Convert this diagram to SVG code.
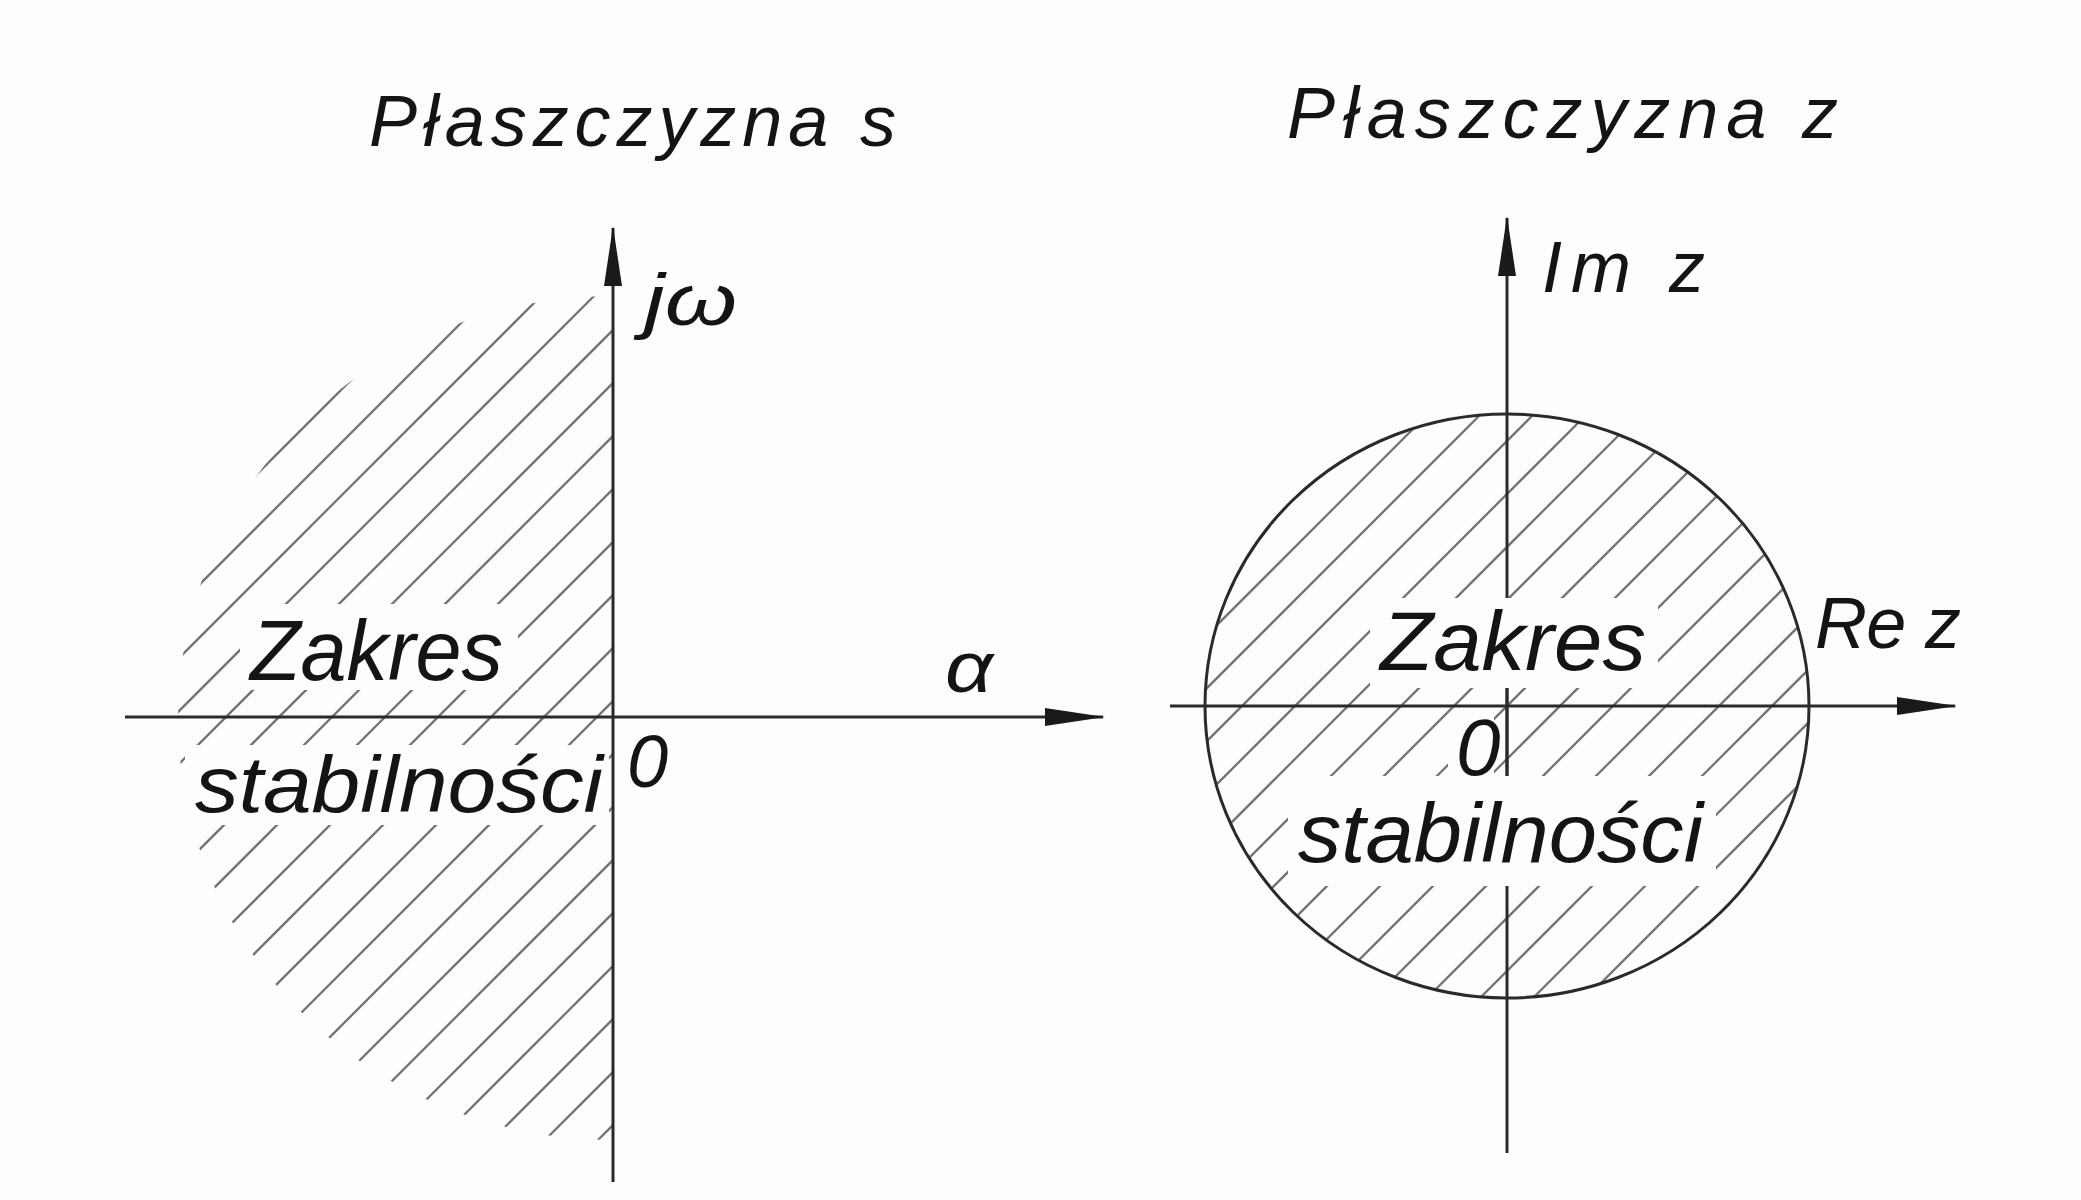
<svg xmlns="http://www.w3.org/2000/svg" width="2081" height="1200" viewBox="0 0 2081 1200">
  <style>
    .axis { stroke: #2a2a2a; stroke-width: 3; fill: none; }
    .hatch { stroke: #757575; stroke-width: 2.3; fill: none; }
    .ring { stroke: #2a2a2a; stroke-width: 3; fill: none; }
    .mask { fill: #fdfdfd; stroke: none; }
    .lbl { font-family: "Liberation Sans", Arial, sans-serif; font-style: italic; fill: #141414; }
  </style>
  <defs>
    <marker id="arrow" markerUnits="userSpaceOnUse" markerWidth="60" markerHeight="20" refX="58" refY="10" orient="auto">
      <path d="M0,1 L60,10 L0,19 Z" fill="#1a1a1a"/>
    </marker>
    <clipPath id="clipS">
      <path d="M613,296 A435,422 0 0 0 613,1140 Z"/>
    </clipPath>
    <clipPath id="clipZ">
      <ellipse cx="1507" cy="706" rx="301" ry="291"/>
    </clipPath>
  </defs>

  <rect width="2081" height="1200" fill="#fdfdfd"/>

  <!-- Plane s -->
  <g id="plane-s">
    <g id="s-hatch" class="hatch" clip-path="url(#clipS)">
      <path d="M100,631L700,31M100,684L700,84M100,737L700,137M100,790L700,190M100,843L700,243M100,896L700,296M100,949L700,349M100,1002L700,402M100,1055L700,455M100,1108L700,508M100,1161L700,561M100,1214L700,614M100,1267L700,667M100,1320L700,720M100,1373L700,773M100,1426L700,826M100,1479L700,879M100,1532L700,932M100,1585L700,985M100,1638L700,1038"/>
    </g>
    <g id="s-text-bg">
      <rect class="mask" x="240" y="604" width="278" height="86"/>
      <rect class="mask" x="185" y="745" width="424" height="80"/>
    </g>
    <g id="s-title"><text class="lbl" x="369" y="146" font-size="72" textLength="527" lengthAdjust="spacing">Płaszczyzna s</text></g>
    <g id="s-jw"><text class="lbl" x="644" y="325" font-size="72" textLength="93" lengthAdjust="spacingAndGlyphs">jω</text></g>
    <g id="s-alpha"><text class="lbl" x="945" y="692" font-size="72" textLength="48" lengthAdjust="spacingAndGlyphs">α</text></g>
    <g id="s-origin"><text class="lbl" x="627" y="787" font-size="74">0</text></g>
    <g id="s-region">
      <text class="lbl" x="250" y="680" font-size="86" textLength="253" lengthAdjust="spacingAndGlyphs">Zakres</text>
      <text class="lbl" x="195" y="812" font-size="80" textLength="408" lengthAdjust="spacingAndGlyphs">stabilności</text>
    </g>
  </g>

  <!-- Plane z -->
  <g id="plane-z">
    <g id="z-hatch" class="hatch" clip-path="url(#clipZ)">
      <path d="M1150,692L1850,-8M1150,745L1850,45M1150,798L1850,98M1150,851L1850,151M1150,904L1850,204M1150,957L1850,257M1150,1010L1850,310M1150,1063L1850,363M1150,1116L1850,416M1150,1169L1850,469M1150,1222L1850,522M1150,1275L1850,575M1150,1328L1850,628M1150,1381L1850,681M1150,1434L1850,734"/>
    </g>
    <g id="z-title"><text class="lbl" x="1287" y="138" font-size="72" textLength="551" lengthAdjust="spacing">Płaszczyzna z</text></g>
    <g id="z-im"><text class="lbl" x="1542" y="292" font-size="72" textLength="163" lengthAdjust="spacing">Im z</text></g>
    <g id="z-re"><text class="lbl" x="1815" y="648" font-size="72" textLength="146" lengthAdjust="spacing">Re z</text></g>
  </g>

  <!-- Connectors: axes and unit circle -->
  <g id="connectors">
    <line class="axis" x1="613" y1="1182" x2="613" y2="228" marker-end="url(#arrow)"/>
    <line class="axis" x1="125" y1="717" x2="1103" y2="717" marker-end="url(#arrow)"/>
    <line class="axis" x1="1507" y1="1153" x2="1507" y2="218" marker-end="url(#arrow)"/>
  </g>
  <g id="z-text-bg">
    <rect class="mask" x="1370" y="598" width="288" height="90"/>
    <rect class="mask" x="1448" y="714" width="46" height="66"/>
    <rect class="mask" x="1288" y="776" width="428" height="110"/>
  </g>
  <g id="connectors-2">
    <line class="axis" x1="1170" y1="706" x2="1955" y2="706" marker-end="url(#arrow)"/>
    <line class="axis" x1="1507" y1="688" x2="1507" y2="776"/>
    <ellipse id="unit-circle" class="ring" cx="1507" cy="706" rx="302" ry="292"/>
  </g>
  <g id="z-labels">
    <text class="lbl" x="1380" y="670" font-size="84" textLength="266" lengthAdjust="spacingAndGlyphs">Zakres</text>
    <text class="lbl" x="1456" y="775" font-size="80">0</text>
    <text class="lbl" x="1298" y="862" font-size="84" textLength="405" lengthAdjust="spacingAndGlyphs">stabilności</text>
  </g>
</svg>
